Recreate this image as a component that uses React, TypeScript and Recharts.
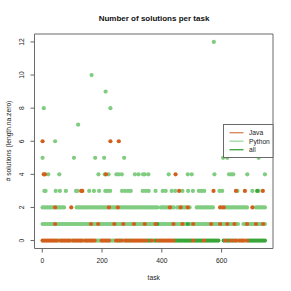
import React from "react";
import { ScatterChart, Scatter, XAxis, YAxis, ReferenceArea } from "recharts";

const chartTitle = "Number of solutions per task";
const xLabel = "task";
const yLabel = "# solutions (length.na.zero)";
const xTicks = [0, 200, 400, 600];
const yTicks = [0, 2, 4, 6, 8, 10, 12];

// dense rows, one char per 6 tasks (task = 6 * i + 1)
// j = Java, p = Python, a = all, . = nothing visible
const rowZero =
  "jjjjjjjjj" + "p" + "jjjjjj" + "p" + "jjjjjj" + "p" + "jjjjj" + "j" + "ppp" +
  "jjjjj" + "ppp" + "jjajpjjaj" + "jjjjjjj" + "ajaajpaja" + "jjjjjjjj" +
  "aaaaaaa" + "aaajaaaaajaaa" + "aaaaa" + ".." + "ajaaja" + "jjpjjjpj" +
  "aaaaa" + "aaaaa";
const rowOne =
  "ppppppp" + "j" + "pppppp" + "pppppp" + "ppppppp" + "j" + "ppp" + "j" +
  "pppppppp" + "j" + "pppp" + "j" + "ppppp" + "j" + "ppppp" + "j" + "ppppp" +
  "j" + "a" + "pppppppp" + "j" + "pppp" + "j" + "pp" + "a" + "pp" + "j" +
  "ppppppppp" + "j" + "pppp" + "j" + "ppp" + "j" + "ppp" + "j" + "pp" + ".." +
  "pp" + "j" + "pppp" + "j" + "ppp" + "j" + "p";
const rowTwo =
  "ppppppp" + "j" + "ppppp" + "..." + "j" + ".." + "pppppp" + "pppppp" + "pppppp" +
  "j" + "pppp" + "j" + "pppppppppp" + "pppppppppppp" + "." + "ppppp" + "j" + "pp" +
  "." + "pp" + "j" + "ppp" + "j" + "p" + "..." + "pppppppppp" + "..." + "j" + "p" +
  "j" + "p" + "pppppppppppp" + ".." + "j" + "." + "pppppp";
const denseRows = [rowZero, rowOne, rowTwo];

// sparse points above the dense rows: [task, solutions]
const javaUpper = [
  [130, 3], [134, 3], [458, 3], [573, 3], [648, 3], [678, 3], [738, 3],
  [5, 4], [9, 4], [213, 4], [446, 4],
  [1, 6], [228, 6], [256, 6],
];
const pythonUpper = [
  [7, 3], [11, 3], [45, 3], [59, 3], [79, 3], [113, 3], [117, 3], [157, 3], [173, 3],
  [190, 3], [211, 3], [218, 3], [227, 3], [267, 3], [277, 3], [287, 3], [296, 3],
  [336, 3], [346, 3], [356, 3], [379, 3], [403, 3], [413, 3], [433, 3], [445, 3],
  [469, 3], [488, 3], [504, 3], [524, 3], [533, 3], [542, 3], [593, 3], [602, 3],
  [653, 3], [703, 3], [724, 3],
  [20, 4], [57, 4], [188, 4], [209, 4], [222, 4], [248, 4], [256, 4], [266, 4],
  [310, 4], [322, 4], [337, 4], [343, 4], [355, 4], [423, 4], [487, 4], [500, 4],
  [576, 4], [625, 4], [633, 4], [639, 4], [686, 4], [745, 4],
  [1, 5], [106, 5], [177, 5], [207, 5], [274, 5], [605, 5], [619, 5], [724, 5],
  [43, 6], [120, 7], [5, 8], [228, 8], [212, 9], [165, 10], [574, 12],
];
const allUpper = [[719, 3]];

const series = [
  { key: "p", name: "Python", color: "#80cc80", legendColor: "#a4dca4", upper: pythonUpper },
  { key: "a", name: "all", color: "#3aa63a", legendColor: "#46a846", upper: allUpper },
  { key: "j", name: "Java", color: "#d2601c", legendColor: "#d98c5f", upper: javaUpper },
];
const legendOrder = ["Java", "Python", "all"];

const buildPoints = (key: string, upper: number[][]) => {
  const pts: { task: number; n: number }[] = [];
  denseRows.forEach((row, n) => {
    row.split("").forEach((ch, i) => {
      if (ch === key) pts.push({ task: i * 6 + 1, n });
    });
  });
  upper.forEach(([task, n]) => pts.push({ task, n }));
  return pts;
};

const font = "'Liberation Sans', Arial, sans-serif";

const YTick = ({ x, y, payload }: any) => (
  <text
    x={x}
    y={y}
    transform={`rotate(-90, ${x}, ${y})`}
    textAnchor="middle"
    fontSize={6.7}
    fill="#222"
    fontFamily={font}
  >
    {payload.value}
  </text>
);

const XTick = ({ x, y, payload }: any) => (
  <text x={x} y={y} dy="0.71em" textAnchor="middle" fontSize={6.7} fill="#222" fontFamily={font}>
    {payload.value}
  </text>
);

export default function App() {
  return (
    <div style={{ position: "absolute", left: 0, top: 0, width: 291, height: 291, background: "#fff" }}>
      <ScatterChart width={291} height={291} margin={{ top: 34, right: 18, bottom: 12.5, left: 4.5 }}>
        <XAxis
          type="number"
          dataKey="task"
          domain={[-26, 772]}
          ticks={xTicks}
          allowDataOverflow
          height={30}
          axisLine={false}
          tickSize={4}
          tickMargin={6.2}
          tickLine={{ stroke: "#666" }}
          tick={<XTick />}
          label={{ value: xLabel, position: "insideBottom", offset: -1.5, fontSize: 6.7, fill: "#222", fontFamily: font }}
        />
        <YAxis
          type="number"
          dataKey="n"
          domain={[-0.48, 12.48]}
          ticks={yTicks}
          allowDataOverflow
          width={30}
          axisLine={false}
          tickSize={4}
          tickMargin={6.5}
          tickLine={{ stroke: "#666" }}
          tick={<YTick />}
        />
        <ReferenceArea x1={-26} x2={772} y1={-0.48} y2={12.48} fill="none" stroke="#6a6a6a" strokeWidth={1} />
        {series.map((s) => (
          <Scatter
            key={s.name}
            name={s.name}
            data={buildPoints(s.key, s.upper)}
            isAnimationActive={false}
            shape={(p: any) => <circle cx={p.cx} cy={p.cy} r={2.1} fill={s.color} />}
          />
        ))}
      </ScatterChart>
      <svg
        width={291}
        height={291}
        style={{ position: "absolute", left: 0, top: 0, pointerEvents: "none" }}
        fontFamily={font}
      >
        <text x={154} y={20.5} textAnchor="middle" fontSize={8} fontWeight="bold" fill="#111">
          {chartTitle}
        </text>
        <text
          x={9}
          y={141}
          transform="rotate(-90, 9, 141)"
          dy="0.355em"
          textAnchor="middle"
          fontSize={6.7}
          fill="#222"
        >
          {yLabel}
        </text>
        <rect x={223.5} y={124.5} width={49.5} height={33} fill="#fff" stroke="#6a6a6a" strokeWidth={1} />
        {legendOrder.map((name, i) => {
          const s = series.find((d) => d.name === name)!;
          const cy = 132.7 + i * 8.5;
          return (
            <g key={name}>
              <line x1={229.5} x2={243.5} y1={cy} y2={cy} stroke={s.legendColor} strokeWidth={1.4} />
              <text x={249} y={cy + 2.4} fontSize={6.7} fill="#222">
                {name}
              </text>
            </g>
          );
        })}
      </svg>
    </div>
  );
}
